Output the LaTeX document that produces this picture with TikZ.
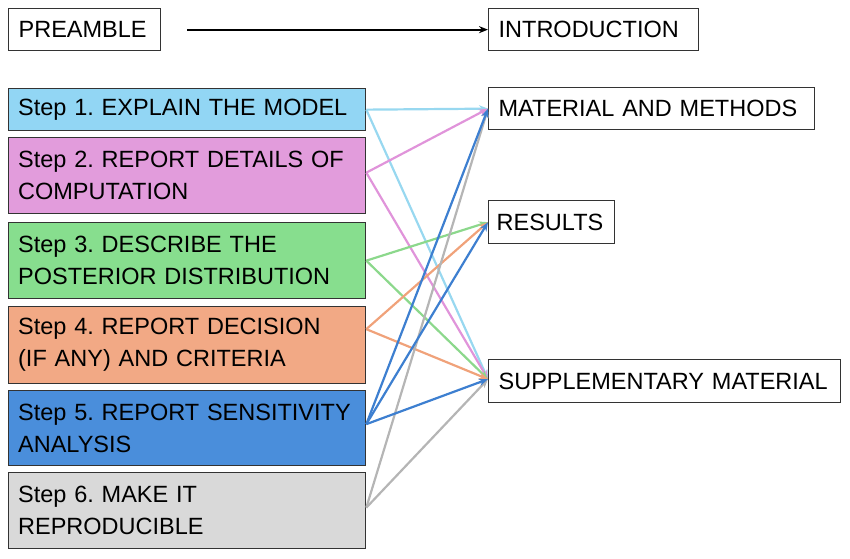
\documentclass[tikz,border=0pt]{standalone}
\usepackage{fontspec}
\setmainfont{Liberation Sans}
\usetikzlibrary{arrows.meta}
\definecolor{boxline}{HTML}{333333}
\definecolor{fA}{HTML}{92D6F4}
\definecolor{fB}{HTML}{E29CDC}
\definecolor{fC}{HTML}{87DE8E}
\definecolor{fD}{HTML}{F2A985}
\definecolor{fE}{HTML}{4A8EDB}
\definecolor{fF}{HTML}{D9D9D9}
\definecolor{lA}{HTML}{98D8F0}
\definecolor{lB}{HTML}{E094DA}
\definecolor{lC}{HTML}{8CD88C}
\definecolor{lD}{HTML}{F0A27A}
\definecolor{lE}{HTML}{3D7FD0}
\definecolor{lF}{HTML}{B5B5B5}
\tikzset{
  box/.style={draw=boxline, line width=1.3pt, inner xsep=10pt, inner ysep=0pt,
    align=left, anchor=north west, font=\fontsize{23.5}{32}\selectfont\frenchspacing},
  conn/.style={line width=2.2pt, -{Stealth[length=9pt,width=7pt]}},
}
\begin{document}
\begin{tikzpicture}[x=1pt,y=-1pt]
\useasboundingbox (0,0) rectangle (850,558);
% top row
\node[box, text width=132pt, minimum height=42pt] (pre) at (8,8) {\mbox{PREAMBLE}};
\node[box, text width=190pt, minimum height=42pt] (intro) at (488,8) {\mbox{INTRODUCTION}};
% steps
\node[box, fill=fA, text width=338pt, inner xsep=9.5pt, minimum height=42pt] (s1) at (8,88) {\mbox{Step 1. EXPLAIN THE MODEL}};
\node[box, fill=fB, text width=338pt, inner xsep=9.5pt, minimum height=76pt] (s2) at (8,137) {\mbox{Step 2. REPORT DETAILS OF}\\\mbox{COMPUTATION}};
\node[box, fill=fC, text width=338pt, inner xsep=9.5pt, minimum height=76pt] (s3) at (8,222) {\mbox{Step 3. DESCRIBE THE}\\\mbox{POSTERIOR DISTRIBUTION}};
\node[box, fill=fD, text width=338pt, inner xsep=9.5pt, minimum height=77pt] (s4) at (8,306) {\mbox{Step 4. REPORT DECISION}\\\mbox{(IF ANY) AND CRITERIA}};
\node[box, fill=fE, text width=338pt, inner xsep=9.5pt, minimum height=75pt] (s5) at (8,390) {\mbox{Step 5. REPORT SENSITIVITY}\\\mbox{ANALYSIS}};
\node[box, fill=fF, text width=338pt, inner xsep=9.5pt, minimum height=76pt] (s6) at (8,472) {\mbox{Step 6. MAKE IT}\\\mbox{REPRODUCIBLE}};
% targets
\node[box, text width=306pt, minimum height=42pt] (mm) at (488,87) {\mbox{MATERIAL AND METHODS}};
\node[box, text width=110pt, inner xsep=8pt, minimum height=43pt] (res) at (488,200) {\mbox{RESULTS}};
\node[box, text width=332pt, minimum height=43pt] (sup) at (488,359) {\mbox{SUPPLEMENTARY MATERIAL}};
% preamble arrow
\draw[line width=2pt, -{Stealth[length=9pt,width=7pt]}] ([xshift=26pt]pre.east) -- (intro.west);
% connectors
\coordinate (o1) at (s1.east);
\coordinate (o2) at ([yshift=3pt]s2.east);
\coordinate (o3) at (s3.east);
\coordinate (o4) at ([yshift=16pt]s4.east);
\coordinate (o5) at ([yshift=4pt]s5.east);
\coordinate (o6) at ([yshift=3pt]s6.east);
\coordinate (tsup) at ([yshift=2pt]sup.west);
\draw[conn, lA] (o1) -- (mm.west);
\draw[conn, lA] (o1) -- (tsup);
\draw[conn, lB] (o2) -- (mm.west);
\draw[conn, lB] (o2) -- (tsup);
\draw[conn, lC] (o3) -- (res.west);
\draw[conn, lC] (o3) -- (tsup);
\draw[conn, lD] (o4) -- (res.west);
\draw[conn, lD] (o4) -- (tsup);
\draw[conn, lF] (o6) -- (mm.west);
\draw[conn, lF] (o6) -- (tsup);
\draw[conn, lE] (o5) -- (mm.west);
\draw[conn, lE] (o5) -- (res.west);
\draw[conn, lE] (o5) -- (tsup);
\end{tikzpicture}
\end{document}
